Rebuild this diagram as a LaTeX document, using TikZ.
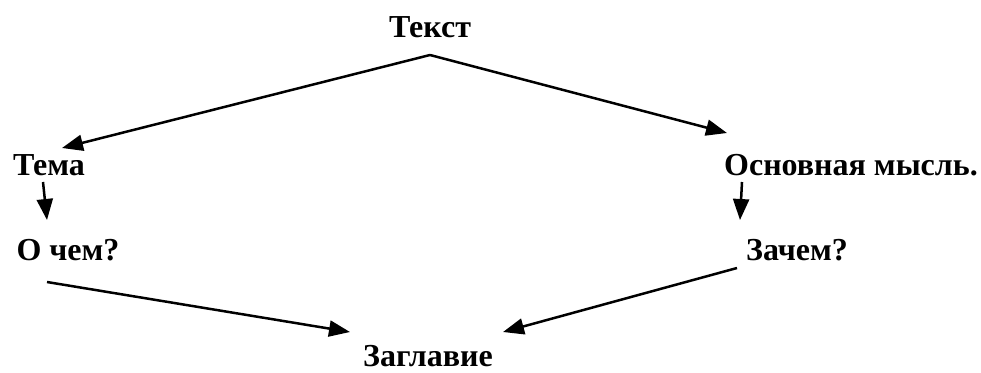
\documentclass[tikz,border=0pt]{standalone}
\usepackage{fontspec}
\setmainfont{Liberation Serif}
\usetikzlibrary{arrows.meta}
\tikzset{
  lbl/.style={anchor=base, inner sep=0pt, font=\fontsize{32}{38}\selectfont\bfseries},
  arr/.style={line width=2.5pt, -{Triangle[length=21pt, width=16pt]}}
}
\begin{document}
\begin{tikzpicture}[x=1pt, y=-1pt]
  \useasboundingbox (0, 0) rectangle (981, 372);
  \node[lbl] (tekst) at (430, 37) {Текст};
  \node[lbl] (tema) at (49, 175) {Тема};
  \node[lbl] (ochem) at (68, 260) {О чем?};
  \node[lbl] (osnov) at (851, 175) {Основная мысль.};
  \node[lbl] (zachem) at (797, 260) {Зачем?};
  \node[lbl] (zaglav) at (428, 366) {Заглавие};
  \draw[arr] ([shift={(0, 18)}]tekst.base) -- ([shift={(13, -27)}]tema.base);
  \draw[arr] ([shift={(0, 18)}]tekst.base) -- ([shift={(-124, -42)}]osnov.base);
  \draw[arr] ([shift={(-6, 7)}]tema.base) -- ([shift={(-21, -40)}]ochem.base);
  \draw[arr] ([shift={(-109, 7)}]osnov.base) -- ([shift={(-57, -40)}]zachem.base);
  \draw[arr] ([shift={(-21, 22)}]ochem.base) -- ([shift={(-78, -34)}]zaglav.base);
  \draw[arr] ([shift={(-60, 8)}]zachem.base) -- ([shift={(75, -34)}]zaglav.base);
\end{tikzpicture}
\end{document}
